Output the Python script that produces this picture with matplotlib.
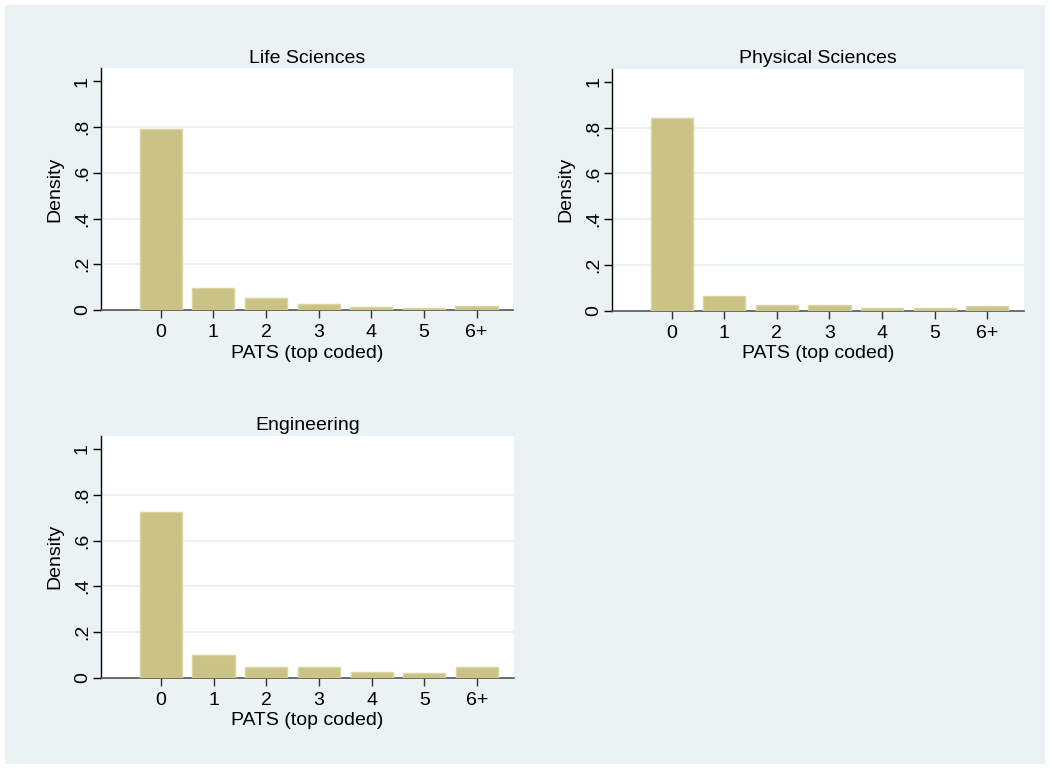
import numpy as np
import matplotlib.pyplot as plt
from matplotlib.patches import Rectangle

# Density of patent counts (top coded at 6) by field
cats = ['0', '1', '2', '3', '4', '5', '6+']
life = [0.792, 0.096, 0.051, 0.025, 0.015, 0.009, 0.018]
phys = [0.844, 0.066, 0.026, 0.026, 0.010, 0.010, 0.022]
eng = [0.725, 0.099, 0.048, 0.045, 0.026, 0.022, 0.048]
titles = ['Life Sciences', 'Physical Sciences', 'Engineering']
yticks = [0, 0.2, 0.4, 0.6, 0.8, 1.0]
ylabels = ['0', '.2', '.4', '.6', '.8', '1']

plt.rcParams['font.family'] = ['Liberation Sans', 'DejaVu Sans']

bg = '#eaf2f3'
fs = 14
fig = plt.figure(figsize=(10.5, 7.69), dpi=100, facecolor='white')
# light blue graph region inset from the white border
fig.patches.append(Rectangle((5 / 1050, 5 / 769), 1040 / 1050, 759 / 769,
                             transform=fig.transFigure, facecolor=bg,
                             edgecolor='none', zorder=-10))

positions = [
    [0.0959, 0.5969, 0.3930, 0.3143],
    [0.5826, 0.5960, 0.3927, 0.3143],
    [0.0959, 0.1187, 0.3936, 0.3143],
]

x = np.arange(len(cats))
for pos, vals, title in zip(positions, [life, phys, eng], titles):
    ax = fig.add_axes(pos)
    ax.set_facecolor('white')
    ax.bar(x, vals, width=0.8, color='#cbc386', edgecolor='#dad5a2',
           linewidth=1, zorder=3)
    for g in yticks[1:-1]:
        ax.axhline(g, color=bg, linewidth=1.5, zorder=1)
    ax.set_xlim(-1.14, 6.70)
    ax.set_ylim(0, 1.057)
    ax.set_xticks(x)
    ax.set_xticklabels(cats, fontsize=fs)
    ax.set_yticks(yticks)
    ax.set_yticklabels(ylabels, fontsize=fs, rotation=90, va='center')
    ax.tick_params(axis='both', length=6, width=1, pad=4)
    ax.tick_params(axis='y', pad=1)
    ax.tick_params(axis='x', colors='#333333', labelcolor='black')
    for s in ['top', 'right']:
        ax.spines[s].set_visible(False)
    ax.spines['left'].set_color('black')
    ax.spines['bottom'].set_color('#555555')
    ax.spines['left'].set_linewidth(1)
    ax.spines['bottom'].set_linewidth(1.2)
    ax.set_xlabel('PATS (top coded)', fontsize=fs, va='center')
    ax.set_ylabel('Density', fontsize=fs, va='center')
    ax.xaxis.set_label_coords(0.5, -0.178)
    ax.yaxis.set_label_coords(-0.111, 0.5)
    ax.set_title(title, fontsize=fs, pad=4)

fig.savefig('out.png', dpi=100, facecolor='white')
